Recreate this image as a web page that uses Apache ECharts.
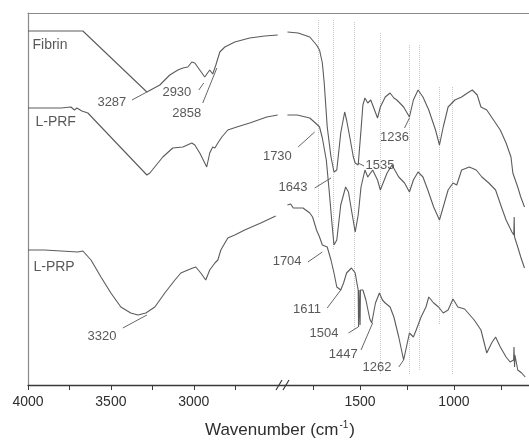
<!DOCTYPE html>
<html>
<head>
<meta charset="utf-8">
<script src="https://cdn.jsdelivr.net/npm/echarts@6/dist/echarts.min.js"></script>
<style>
  html, body { margin: 0; padding: 0; background: #fff; }
  #chart { width: 529px; height: 448px; }
</style>
</head>
<body>
<div id="chart"></div>
<script>
// spectra: [wavenumber (cm-1), transmittance (arb. units)]
let fibrinHigh = [[4000, 354], [3900, 354], [3800, 354], [3669, 354], [3283, 293], [3205, 300], [3145, 310], [3096, 315],
  [3066, 317], [3036, 318], [3012, 323], [2994, 322], [2964, 315], [2934, 308], [2922, 310], [2904, 315], [2886, 311],
  [2867, 320], [2843, 333], [2813, 338], [2753, 343], [2663, 347], [2572, 349], [2494, 350]]
let fibrinLow = [[1887, 353], [1830, 352], [1768, 348], [1732, 340], [1716, 335], [1701, 322], [1691, 302], [1675, 258],
  [1655, 228], [1639, 213], [1624, 215], [1603, 252], [1582, 273], [1572, 265], [1552, 245], [1536, 228], [1526, 222],
  [1510, 220], [1495, 255], [1485, 280], [1474, 287], [1459, 282], [1443, 285], [1423, 275], [1407, 267], [1392, 278],
  [1366, 288], [1340, 292], [1320, 287], [1304, 285], [1268, 278], [1237, 268], [1216, 285], [1191, 295], [1165, 288],
  [1134, 275], [1098, 255], [1077, 240], [1057, 258], [1031, 278], [995, 285], [959, 288], [928, 292], [902, 295],
  [876, 290], [856, 278], [825, 275], [789, 265], [753, 255], [722, 242], [696, 228], [686, 212], [660, 198],
  [644, 188], [624, 178]]
let lprfHigh = [[4000, 277], [3900, 277], [3800, 277], [3741, 278], [3720, 275], [3705, 277], [3675, 274], [3639, 272],
  [3627, 270], [3283, 210], [3265, 212], [3187, 228], [3127, 237], [3066, 238], [3012, 242], [2994, 240], [2964, 232],
  [2922, 218], [2904, 232], [2886, 238], [2873, 237], [2855, 242], [2831, 248], [2795, 255], [2741, 258], [2663, 262],
  [2560, 268], [2494, 270]]
let lprfLow = [[1887, 270], [1835, 270], [1768, 267], [1732, 261], [1716, 258], [1701, 247], [1680, 225], [1665, 195],
  [1649, 160], [1639, 140], [1624, 145], [1603, 180], [1577, 198], [1562, 193], [1546, 175], [1526, 153], [1510, 170],
  [1495, 198], [1474, 215], [1459, 208], [1433, 215], [1407, 205], [1392, 195], [1371, 205], [1356, 212], [1330, 220],
  [1294, 208], [1263, 202], [1237, 193], [1216, 205], [1191, 213], [1165, 208], [1139, 195], [1108, 178], [1077, 165],
  [1057, 178], [1031, 195], [1005, 202], [985, 200], [959, 215], [918, 218], [881, 215], [851, 208], [814, 202],
  [778, 195], [747, 178], [722, 165], [691, 153], [681, 150], [679, 168], [677, 148], [660, 138], [644, 128], [624, 117]]
let lprpHigh = [[4000, 135], [3900, 135], [3800, 134], [3700, 133], [3669, 134], [3620, 125], [3560, 108], [3500, 92],
  [3440, 78], [3380, 72], [3337, 70], [3289, 72], [3235, 78], [3175, 92], [3114, 105], [3078, 112], [3036, 115],
  [3006, 117], [2988, 118], [2958, 112], [2928, 105], [2904, 115], [2873, 122], [2855, 125], [2837, 135], [2795, 147],
  [2753, 150], [2693, 155], [2596, 162], [2506, 169]]
let lprpLow = [[1887, 180], [1880, 178], [1870, 181], [1856, 177], [1804, 177], [1768, 172], [1753, 168], [1732, 155],
  [1716, 148], [1701, 140], [1691, 140], [1675, 138], [1655, 125], [1639, 112], [1624, 98], [1603, 95], [1588, 102],
  [1572, 112], [1546, 117], [1526, 112], [1515, 100], [1510, 95], [1508, 58], [1506, 95], [1502, 95], [1500, 60],
  [1498, 95], [1485, 95], [1469, 85], [1448, 66], [1438, 62], [1425, 75], [1418, 82], [1397, 92], [1381, 85], [1366, 82],
  [1340, 78], [1320, 68], [1294, 48], [1268, 25], [1253, 38], [1237, 52], [1216, 48], [1201, 55], [1175, 68], [1149, 78],
  [1134, 88], [1108, 82], [1082, 78], [1057, 72], [1031, 75], [1005, 86], [979, 78], [943, 76], [892, 65], [856, 55],
  [825, 32], [799, 42], [778, 48], [753, 38], [722, 28], [701, 23], [682, 25], [680, 38], [677, 18], [675, 30],
  [660, 15], [639, 12], [620, 8]]

// axis ticks
let leftTicks = [4000, 3750, 3500, 3250, 3000, 2750]
let leftLabels = [4000, 3500, 3000]
let rightTicks = [1750, 1500, 1250, 1000, 750]
let rightLabels = [1500, 1000]

// dotted guide lines (wavenumber, top, bottom)
let guideWn = [1725, 1645, 1530, 1395, 1237, 1186, 1078, 1010]
let guideTop = [365, 365, 363, 352, 340, 340, 298, 298]
let guideBottom = [168, 135, 55, 10, 10, 15, 60, 10]

// peak annotations
let leftNotes = [
  { text: 'Fibrin', at: [3976, 340], side: 'right', size: 14 },
  { text: 'L-PRF', at: [3958, 263], side: 'right', size: 14 },
  { text: 'L-PRP', at: [3970, 118], side: 'right', size: 14 },
  { text: '3287', at: [3404, 283], from: [3373, 285], to: [3283, 293] },
  { text: '2930', at: [3012, 293], from: [2970, 295], to: [2940, 302] },
  { text: '2858', at: [2952, 272], from: [2946, 282], to: [2861, 317] },
  { text: '3320', at: [3464, 49], from: [3428, 57], to: [3283, 70] }
]
let rightNotes = [
  { text: '1730', at: [1861, 229], from: [1830, 238], to: [1742, 253] },
  { text: '1643', at: [1778, 198], from: [1742, 197], to: [1655, 207] },
  { text: '1535', at: [1474, 220], side: 'right', from: [1510, 222], to: [1479, 219] },
  { text: '1236', at: [1237, 248], from: [1263, 257], to: [1237, 267] },
  { text: '1704', at: [1809, 124], from: [1778, 123], to: [1701, 133] },
  { text: '1611', at: [1706, 76], from: [1675, 77], to: [1603, 95] },
  { text: '1504', at: [1613, 52], from: [1562, 52], to: [1510, 58] },
  { text: '1447', at: [1510, 31], from: [1495, 35], to: [1433, 62] },
  { text: '1262', at: [1330, 18], from: [1294, 18], to: [1268, 25] }
]

const FONT = 'Liberation Sans, Arial, sans-serif'
const INK = '#2e2e2e'
const CURVE = '#5c5c5c'

function spectrum (data, axis) {
  return {
    type: 'line',
    xAxisIndex: axis,
    yAxisIndex: axis,
    data: data,
    showSymbol: false,
    silent: true,
    lineStyle: { color: CURVE, width: 1.1 }
  }
}

function noteLabels (notes, axis) {
  let data = []
  for (let i = 0; i < notes.length; i++) {
    let note = notes[i]
    data.push({
      value: note.at,
      label: {
        show: true,
        position: note.side === 'right' ? 'right' : 'left',
        distance: 0,
        formatter: note.text,
        fontSize: note.size || 13,
        fontFamily: FONT,
        color: INK
      }
    })
  }
  return {
    type: 'scatter',
    xAxisIndex: axis,
    yAxisIndex: axis,
    symbolSize: 1,
    itemStyle: { color: 'rgba(0,0,0,0)' },
    silent: true,
    z: 5,
    data: data
  }
}

function noteLeaders (notes, axis) {
  let data = []
  for (let i = 0; i < notes.length; i++) {
    if (notes[i].from) data.push({ coords: [notes[i].from, notes[i].to] })
  }
  return {
    type: 'lines',
    coordinateSystem: 'cartesian2d',
    xAxisIndex: axis,
    yAxisIndex: axis,
    silent: true,
    lineStyle: { color: '#555', width: 0.9, opacity: 1 },
    data: data
  }
}

function guides () {
  let data = []
  for (let i = 0; i < guideWn.length; i++) {
    data.push({ coords: [[guideWn[i], guideTop[i]], [guideWn[i], guideBottom[i]]] })
  }
  return {
    type: 'lines',
    coordinateSystem: 'cartesian2d',
    xAxisIndex: 1,
    yAxisIndex: 1,
    silent: true,
    lineStyle: { color: '#c8c8c8', width: 1, type: 'dotted', opacity: 1 },
    data: data
  }
}

function bottomAxis (grid, min, max, ticks, labels) {
  return {
    gridIndex: grid,
    type: 'value',
    position: 'bottom',
    min: min,
    max: max,
    inverse: true,
    axisLine: { show: true, lineStyle: { color: '#3a3a3a', width: 1.3 } },
    axisTick: { show: true, customValues: ticks, length: 5, lineStyle: { color: '#3a3a3a' } },
    axisLabel: {
      show: true,
      customValues: labels,
      margin: 10,
      fontSize: 14,
      fontFamily: FONT,
      color: INK,
      formatter: function (value) {
        return String(value)
      }
    },
    splitLine: { show: false }
  }
}

function topAxis (grid, min, max) {
  return {
    gridIndex: grid,
    type: 'value',
    position: 'top',
    min: min,
    max: max,
    inverse: true,
    axisLine: { show: true, lineStyle: { color: '#8a8a8a', width: 1.2 } },
    axisTick: { show: false },
    axisLabel: { show: false },
    splitLine: { show: false }
  }
}

let chart = echarts.init(document.getElementById('chart'))
chart.setOption({
  animation: false,
  backgroundColor: '#fff',
  grid: [
    { left: 28, top: 13, width: 257, height: 372 },
    { left: 285, top: 13, width: 252, height: 372 }
  ],
  xAxis: [
    bottomAxis(0, 2450, 4000, leftTicks, leftLabels),
    bottomAxis(1, 600, 1900, rightTicks, rightLabels),
    topAxis(0, 2450, 4000),
    topAxis(1, 600, 1900)
  ],
  yAxis: [
    {
      gridIndex: 0,
      type: 'value',
      min: 0,
      max: 372,
      axisLine: { show: true, lineStyle: { color: '#8a8a8a', width: 1.2 } },
      axisTick: { show: false },
      axisLabel: { show: false },
      splitLine: { show: false }
    },
    { gridIndex: 1, type: 'value', min: 0, max: 372, show: false }
  ],
  graphic: [
    {
      type: 'text',
      x: 280,
      y: 430,
      style: {
        text: '{a|Wavenumber (cm}{s|-1}{a|)}',
        textAlign: 'center',
        textVerticalAlign: 'middle',
        rich: {
          a: { fontSize: 17, fontFamily: FONT, fill: INK, lineHeight: 20 },
          s: { fontSize: 10, fontFamily: FONT, fill: INK, verticalAlign: 'top', lineHeight: 20, padding: [0, 1, 8, 1] }
        }
      }
    },
    {
      type: 'group',
      children: [
        { type: 'line', shape: { x1: 276, y1: 390, x2: 282, y2: 380 }, style: { stroke: '#3a3a3a', lineWidth: 1.2 } },
        { type: 'line', shape: { x1: 283, y1: 390, x2: 289, y2: 380 }, style: { stroke: '#3a3a3a', lineWidth: 1.2 } }
      ]
    }
  ],
  series: [
    guides(),
    spectrum(fibrinHigh, 0),
    spectrum(lprfHigh, 0),
    spectrum(lprpHigh, 0),
    spectrum(fibrinLow, 1),
    spectrum(lprfLow, 1),
    spectrum(lprpLow, 1),
    noteLeaders(leftNotes, 0),
    noteLeaders(rightNotes, 1),
    noteLabels(leftNotes, 0),
    noteLabels(rightNotes, 1)
  ]
})
</script>
</body>
</html>
